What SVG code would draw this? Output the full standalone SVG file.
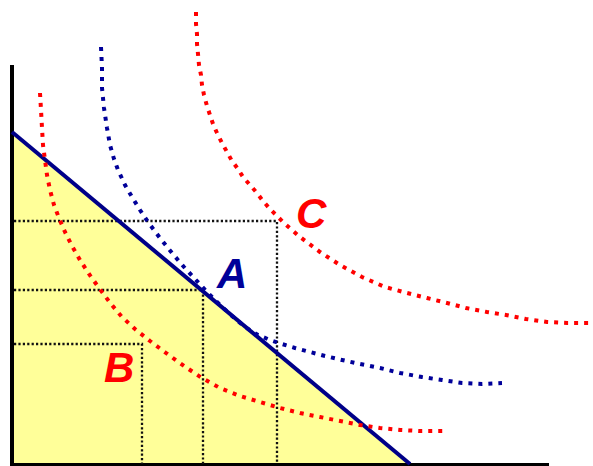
<svg xmlns="http://www.w3.org/2000/svg" width="593" height="466" viewBox="0 0 593 466">
<style>
.axis{stroke:#000;stroke-width:4;fill:none}
.grid{stroke:#111;stroke-width:2.3;stroke-dasharray:2.2 2.2;fill:none}
.red{stroke:#ff0000;stroke-width:4;stroke-dasharray:4 6;fill:none}
.blue{stroke:#000099;stroke-width:4;stroke-dasharray:4 6;fill:none}
.budget{stroke:#000088;stroke-width:4;fill:none}
.lbl{font-family:"Liberation Sans",Arial,sans-serif;font-weight:bold;font-style:italic;font-size:42px}
</style>
<rect width="593" height="466" fill="#fff"/>
<g id="axes">
<line class="axis" x1="12" y1="65" x2="12" y2="466"/>
<line class="axis" x1="10" y1="464.5" x2="549" y2="464.5" style="stroke-width:3"/>
</g>
<g id="feasible">
<polygon points="14,133 410,463 14,463" fill="#ffff99"/>
</g>
<g id="connectors">
<path class="grid" d="M14 221 H277 V464"/>
<path class="grid" d="M14 290 H203 V464"/>
<path class="grid" d="M14 344 H142 V464"/>
<line class="budget" x1="12" y1="132" x2="410" y2="464"/>
<polyline id="curveB" class="red" points="40,93 41,110 42,128 43,145 45,160 47,175 50,190 54,205 59,218 65,232 72,246 80,260 89,274 99,288 111,304 122,317 135,329 150,341 166,353 184,366 202,378 220,388 240,396 260,402 280,408 300,413 320,417 340,421 360,425 380,428 400,430 420,431 443,431"/>
<polyline id="curveA" class="blue" points="101,47 102,68 102,88 104,108 107,128 110,145 114,159 118,170 125,185 132,197 140,210 148,222 160,238 172,253 184,267 196,280 208,293 220,305 232,316 245,327 258,335 270,340 282,344 295,348 310,352 325,356 342,360 360,364 380,368 400,373 422,377 442,380 462,383 482,384 502,383"/>
<polyline id="curveC" class="red" points="196,12 196,24 197,34 197,44 198,54 199,65 201,75 202,85 204,95 207,106 210,115 213,124 217,133 222,143 227,152 232,161 238,169 243,177 250,185 257,193 263,201 270,209 277,216 284,223 292,230 300,237 320,252 340,265 362,277 385,287 407,293 427,298 447,303 466,308 487,312 506,315 526,319 547,322 567,323 590,323"/>
</g>
<g id="labelC"><text class="lbl" x="296" y="228" fill="#ff0000">C</text></g>
<g id="labelA"><text class="lbl" x="217" y="288" fill="#000099">A</text></g>
<g id="labelB"><text class="lbl" x="104" y="382" fill="#ff0000">B</text></g>
</svg>
